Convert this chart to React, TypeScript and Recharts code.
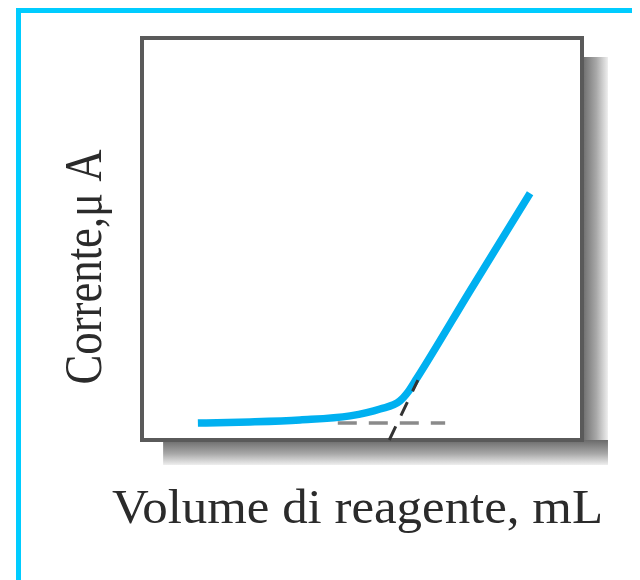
import { LineChart, Line, XAxis, YAxis, ReferenceArea } from 'recharts';

// titration curve (amperometric), arbitrary units 0..10
const volume = [1.27, 2.45, 3.59, 4.73, 5.41, 5.86, 6.05, 6.25, 7.45, 8.82];
const current = [0.42, 0.45, 0.5, 0.6, 0.77, 0.97, 1.2, 1.54, 3.7, 6.14];

// dashed extrapolations
const baseVolume = [4.45, 6.89];
const baseCurrent = [0.42, 0.42];
const slopeVolume = [5.62, 6.27];
const slopeCurrent = [0, 1.49];

const xTitle = 'Volume di reagente, mL';
const yTitle = 'Corrente,\u03bc A';

const zip = (xs: number[], ys: number[]) => xs.map((x, i) => ({ x, y: ys[i] }));
const curve = zip(volume, current);
const baseLine = zip(baseVolume, baseCurrent);
const slopeLine = zip(slopeVolume, slopeCurrent);

const font = '"Liberation Serif", "DejaVu Serif", serif';

// both axis titles, placed relative to the plot box
const Titles = (props: any) => {
  const vb = props.viewBox || { x: 134, y: 30, width: 440, height: 402 };
  const cx = vb.x - 41;
  const cy = vb.y + vb.height / 2 + 28;
  return (
    <g>
      <text
        x={vb.x - 30}
        y={vb.y + vb.height + 83}
        fontFamily={font}
        fontSize={48}
        fill="#2b2b2b"
        textLength={491}
        lengthAdjust="spacingAndGlyphs"
      >
        {xTitle}
      </text>
      <text
        x={cx}
        y={cy}
        transform={`rotate(-90 ${cx} ${cy})`}
        textAnchor="middle"
        fontFamily={font}
        fontSize={52}
        fill="#2b2b2b"
        textLength={235}
        lengthAdjust="spacingAndGlyphs"
      >
        {yTitle}
      </text>
    </g>
  );
};

export default function App() {
  return (
    <div style={{ position: 'relative', width: 632, height: 572 }}>
      <LineChart
        width={632}
        height={572}
        margin={{ top: 30, right: 58, bottom: 140, left: 134 }}
      >
        <defs>
          <linearGradient id="shadeRight" x1="0" y1="0" x2="1" y2="0">
            <stop offset="0%" stopColor="#6a6a6a" />
            <stop offset="55%" stopColor="#a8a8a8" />
            <stop offset="100%" stopColor="#eeeeee" />
          </linearGradient>
          <linearGradient id="shadeBottom" x1="0" y1="0" x2="0" y2="1">
            <stop offset="0%" stopColor="#6a6a6a" />
            <stop offset="55%" stopColor="#a8a8a8" />
            <stop offset="100%" stopColor="#eeeeee" />
          </linearGradient>
        </defs>
        <XAxis type="number" dataKey="x" domain={[0, 10]} hide />
        <YAxis type="number" dataKey="y" domain={[0, 10]} hide />
        <ReferenceArea x1={10} x2={10.59} y1={-0.62} y2={9.53} ifOverflow="visible" fill="url(#shadeRight)" fillOpacity={1} stroke="none" />
        <ReferenceArea x1={0.48} x2={10.59} y1={-0.62} y2={0} ifOverflow="visible" fill="url(#shadeBottom)" fillOpacity={1} stroke="none" />
        <ReferenceArea
          x1={0}
          x2={10}
          y1={0}
          y2={10}
          ifOverflow="visible"
          fill="#ffffff"
          fillOpacity={1}
          stroke="#5a5a5a"
          strokeWidth={4}
          label={<Titles />}
        />
        <Line
          data={curve}
          dataKey="y"
          type="monotone"
          stroke="#00b0f0"
          strokeWidth={7.5}
          dot={false}
          isAnimationActive={false}
        />
        <Line
          data={baseLine}
          dataKey="y"
          type="linear"
          stroke="#8a8a8a"
          strokeWidth={3.5}
          strokeDasharray="19 12"
          dot={false}
          isAnimationActive={false}
        />
        <Line
          data={slopeLine}
          dataKey="y"
          type="linear"
          stroke="#333333"
          strokeWidth={3}
          strokeDasharray="15 12"
          dot={false}
          isAnimationActive={false}
        />
      </LineChart>
      <div
        style={{
          position: 'absolute',
          left: 8,
          top: 0,
          width: 624,
          height: 572,
          boxSizing: 'border-box',
          borderTop: '5px solid #00ccff',
          borderLeft: '5px solid #00ccff',
          pointerEvents: 'none',
        }}
      />
    </div>
  );
}
